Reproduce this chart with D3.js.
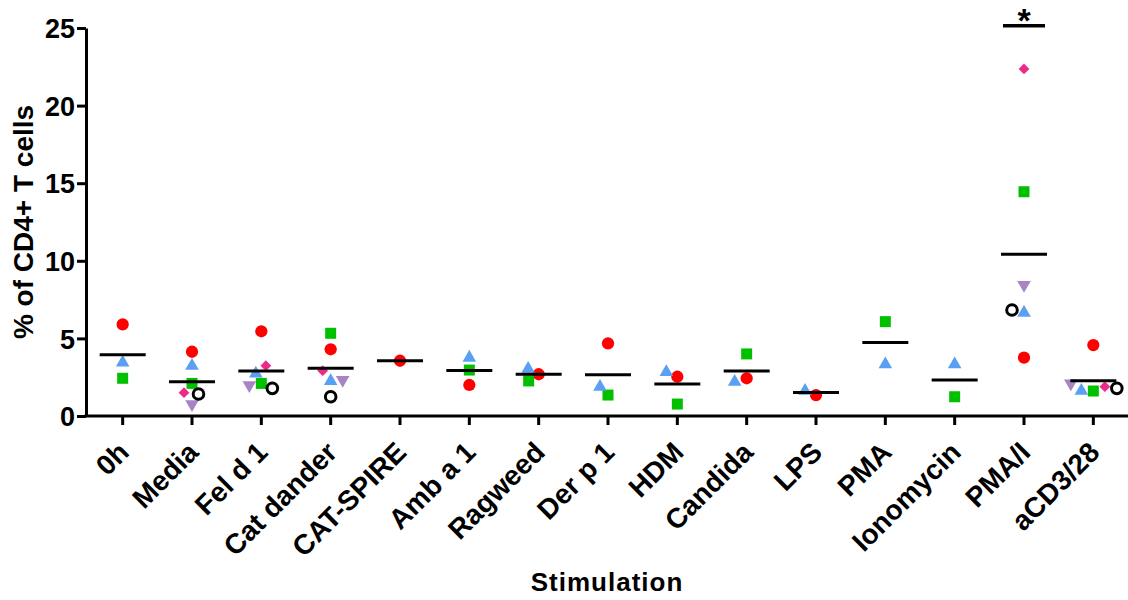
<!DOCTYPE html>
<html>
<head>
<meta charset="utf-8">
<script src="https://cdn.jsdelivr.net/npm/d3@7"></script>
<style>
body { margin: 0; background: #fff; }
svg text { font-family: "Liberation Sans", Arial, sans-serif; font-weight: bold; fill: #000; }
</style>
</head>
<body>
<svg id="chart" width="1128" height="600"></svg>
<script>
// stimulation conditions on the x axis
var categories = ["0h", "Media", "Fel d 1", "Cat dander", "CAT-SPIRE", "Amb a 1", "Ragweed",
    "Der p 1", "HDM", "Candida", "LPS", "PMA", "Ionomycin", "PMA/I", "aCD3/28"];

// one array per donor (null = not measured)
var redValues    = [5.9, 4.14, 5.46, 4.3, 3.56, 2.0, 2.69, 4.68, 2.53, 2.43, 1.35, null, null, 3.76, 4.57];
var greenValues  = [2.43, 2.1, 2.1, 5.33, null, 2.96, 2.26, 1.35, 0.77, 4.0, null, 6.08, 1.24, 14.45, 1.61];
var blueValues   = [3.5, 3.29, 2.79, 2.32, null, 3.82, 3.11, 1.95, 2.9, 2.26, 1.68, 3.4, 3.4, 6.72, 1.68];
var pinkValues   = [null, 1.5, 3.24, 2.92, null, null, null, null, null, null, null, null, null, 22.36, 1.89];
var purpleValues = [null, 0.77, 1.98, 2.32, null, null, null, null, null, null, null, null, null, 8.44, 2.1];
var blackValues  = [null, 1.42, 1.78, 1.24, null, null, null, null, null, null, null, null, null, 6.83, 1.78];

var yTicks = [0, 5, 10, 15, 20, 25];
var sigCategories = ["PMA/I"];
var sigValues = [25.15];
var sigLabels = ["*"];

var series = [
    {values: redValues,    shape: "circle",  color: "#ff0000"},
    {values: greenValues,  shape: "square",  color: "#00c000"},
    {values: blueValues,   shape: "triUp",   color: "#5aa0f2"},
    {values: pinkValues,   shape: "diamond", color: "#ee2a88"},
    {values: purpleValues, shape: "triDown", color: "#a884c4"},
    {values: blackValues,  shape: "ring",    color: "#000000"}
];

var svg = d3.select("#chart");

var x = d3.scaleBand().domain(categories).range([88, 1128]).padding(0);
var y = d3.scaleLinear().domain([0, 25]).range([416, 28]);

// axes
var yAxis = svg.append("g")
    .attr("transform", "translate(86,0)")
    .call(d3.axisLeft(y).tickValues(yTicks).tickSize(9).tickSizeOuter(0).tickPadding(2));
yAxis.selectAll("path, line").attr("stroke", "#000").attr("stroke-width", 3);
yAxis.selectAll("text").style("font-size", "27px")
    .attr("font-family", null).attr("dy", "0.36em");

var xAxis = svg.append("g")
    .attr("transform", "translate(0,416)")
    .call(d3.axisBottom(x).tickSize(9).tickSizeOuter(0));
xAxis.select(".domain").attr("d", "M84.5,0H1128");
xAxis.selectAll("path, line").attr("stroke", "#000").attr("stroke-width", 3);
xAxis.selectAll("text")
    .attr("font-family", null)
    .style("font-size", "28px")
    .attr("text-anchor", "end")
    .attr("y", 0).attr("dy", 0)
    .attr("transform", "translate(8,38) rotate(-45)");

// titles
svg.append("text")
    .attr("transform", "translate(33,222) rotate(-90)")
    .attr("text-anchor", "middle")
    .style("font-size", "28px")
    .text("% of CD4+ T cells");
svg.append("text")
    .attr("x", 607).attr("y", 591)
    .attr("text-anchor", "middle")
    .style("font-size", "26px").style("letter-spacing", "1px")
    .text("Stimulation");

// symbols
var shapePath = {
    circle: d3.symbol().type(d3.symbolCircle).size(118)(),
    square: d3.symbol().type(d3.symbolSquare).size(121)(),
    triUp: d3.symbol().type(d3.symbolTriangle).size(80)(),
    triDown: d3.symbol().type(d3.symbolTriangle).size(80)(),
    diamond: d3.symbol().type(d3.symbolSquare).size(58)()
};

// spread points that would overlap (beeswarm), in series order
var D = 12;
var points = [];
categories.forEach(function(cat, ci){
    var placed = [];
    series.forEach(function(s){
        var v = s.values[ci];
        if (v == null) return;
        var py = y(v);
        var best = 0;
        for (var step = 0; step <= 40; step += 0.5) {
            var ok = [-step, step].filter(function(dx){
                return placed.every(function(q){
                    var ddx = dx - q.dx, ddy = py - q.py;
                    return ddx*ddx + ddy*ddy >= D*D;
                });
            });
            if (ok.length) { best = ok[0]; break; }
        }
        var p = {cat: cat, value: v, dx: best, py: py, shape: s.shape, color: s.color};
        placed.push(p);
        points.push(p);
    });
});

var marks = svg.append("g");
marks.selectAll(".pt")
    .data(points.filter(function(d){ return d.shape !== "ring"; }))
    .enter().append("path")
    .attr("class", "pt")
    .attr("d", function(d){ return shapePath[d.shape]; })
    .attr("fill", function(d){ return d.color; })
    .attr("transform", function(d){
        var t = "translate(" + (x(d.cat) + x.bandwidth()/2 + d.dx) + "," + d.py + ")";
        if (d.shape === "triDown") t += " rotate(180)";
        if (d.shape === "diamond") t += " rotate(45)";
        if (d.shape === "triUp") t += " translate(0,1)";
        return t;
    });
marks.selectAll(".ring")
    .data(points.filter(function(d){ return d.shape === "ring"; }))
    .enter().append("circle")
    .attr("class", "ring")
    .attr("cx", function(d){ return x(d.cat) + x.bandwidth()/2 + d.dx; })
    .attr("cy", function(d){ return d.py; })
    .attr("r", 5.3)
    .attr("fill", "none")
    .attr("stroke", "#000")
    .attr("stroke-width", 3);

// mean lines
var means = categories.map(function(cat, ci){
    return {cat: cat, mean: d3.mean(series, function(s){ return s.values[ci] == null ? undefined : s.values[ci]; })};
});
svg.append("g").selectAll("line")
    .data(means)
    .enter().append("line")
    .attr("x1", function(d){ return x(d.cat) + x.bandwidth()/2 - 23; })
    .attr("x2", function(d){ return x(d.cat) + x.bandwidth()/2 + 23; })
    .attr("y1", function(d){ return y(d.mean); })
    .attr("y2", function(d){ return y(d.mean); })
    .attr("stroke", "#000")
    .attr("stroke-width", 3);

// significance marker
var sig = svg.append("g");
sigCategories.forEach(function(cat, i){
    var cx = x(cat) + x.bandwidth()/2;
    sig.append("line")
        .attr("x1", cx - 21).attr("x2", cx + 21)
        .attr("y1", y(sigValues[i])).attr("y2", y(sigValues[i]))
        .attr("stroke", "#000").attr("stroke-width", 3.5);
    sig.append("text")
        .attr("x", cx).attr("y", y(sigValues[i]) + 6)
        .attr("text-anchor", "middle")
        .style("font-size", "34px")
        .text(sigLabels[i]);
});
</script>
</body>
</html>
